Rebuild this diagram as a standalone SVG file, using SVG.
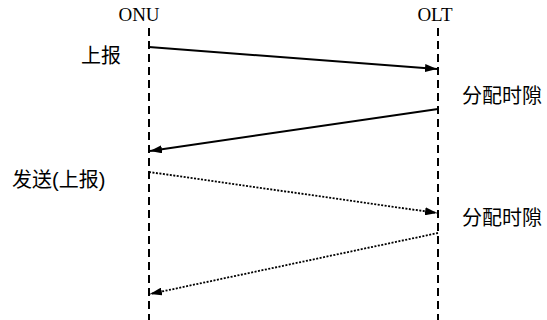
<svg xmlns="http://www.w3.org/2000/svg" width="547" height="320" viewBox="0 0 547 320">
<style>
.life{stroke:#000;stroke-width:2;stroke-dasharray:8,5;fill:none}
.solid{stroke:#000;stroke-width:2;fill:none}
.dot{stroke:#000;stroke-width:1.8;stroke-dasharray:2,1.5;fill:none}
.lat{font-family:"Liberation Serif",serif;font-size:19px;fill:#000}
.cjk{font-family:"Liberation Sans","Noto Sans CJK SC",sans-serif;font-size:20px;fill:#000}
</style>
<defs>
<marker id="ah" viewBox="0 0 12 8" refX="12" refY="4" markerWidth="12" markerHeight="8" markerUnits="userSpaceOnUse" orient="auto">
<path d="M0,0 L12,4 L0,8 Z" fill="#000"/>
</marker>
</defs>
<rect width="547" height="320" fill="#fff"/>
<g id="ONU">
<text class="lat" x="139" y="21" text-anchor="middle">ONU</text>
<line class="life" x1="149" y1="28" x2="149" y2="320"/>
</g>
<g id="OLT">
<text class="lat" x="435" y="21" text-anchor="middle">OLT</text>
<line class="life" x1="438" y1="28" x2="438" y2="320"/>
</g>
<g id="labels">
<text class="cjk" x="81" y="63">上报</text>
<text class="cjk" x="462" y="103">分配时隙</text>
<text class="cjk" x="12" y="187">发送(上报)</text>
<text class="cjk" x="462" y="225">分配时隙</text>
</g>
<g id="connectors">
<line class="solid" x1="149" y1="47" x2="437" y2="69" marker-end="url(#ah)"/>
<line class="solid" x1="438" y1="109" x2="150" y2="151" marker-end="url(#ah)"/>
<line class="dot" x1="149" y1="172" x2="437" y2="213" marker-end="url(#ah)"/>
<line class="dot" x1="438" y1="233" x2="150" y2="294" marker-end="url(#ah)"/>
</g>
</svg>
